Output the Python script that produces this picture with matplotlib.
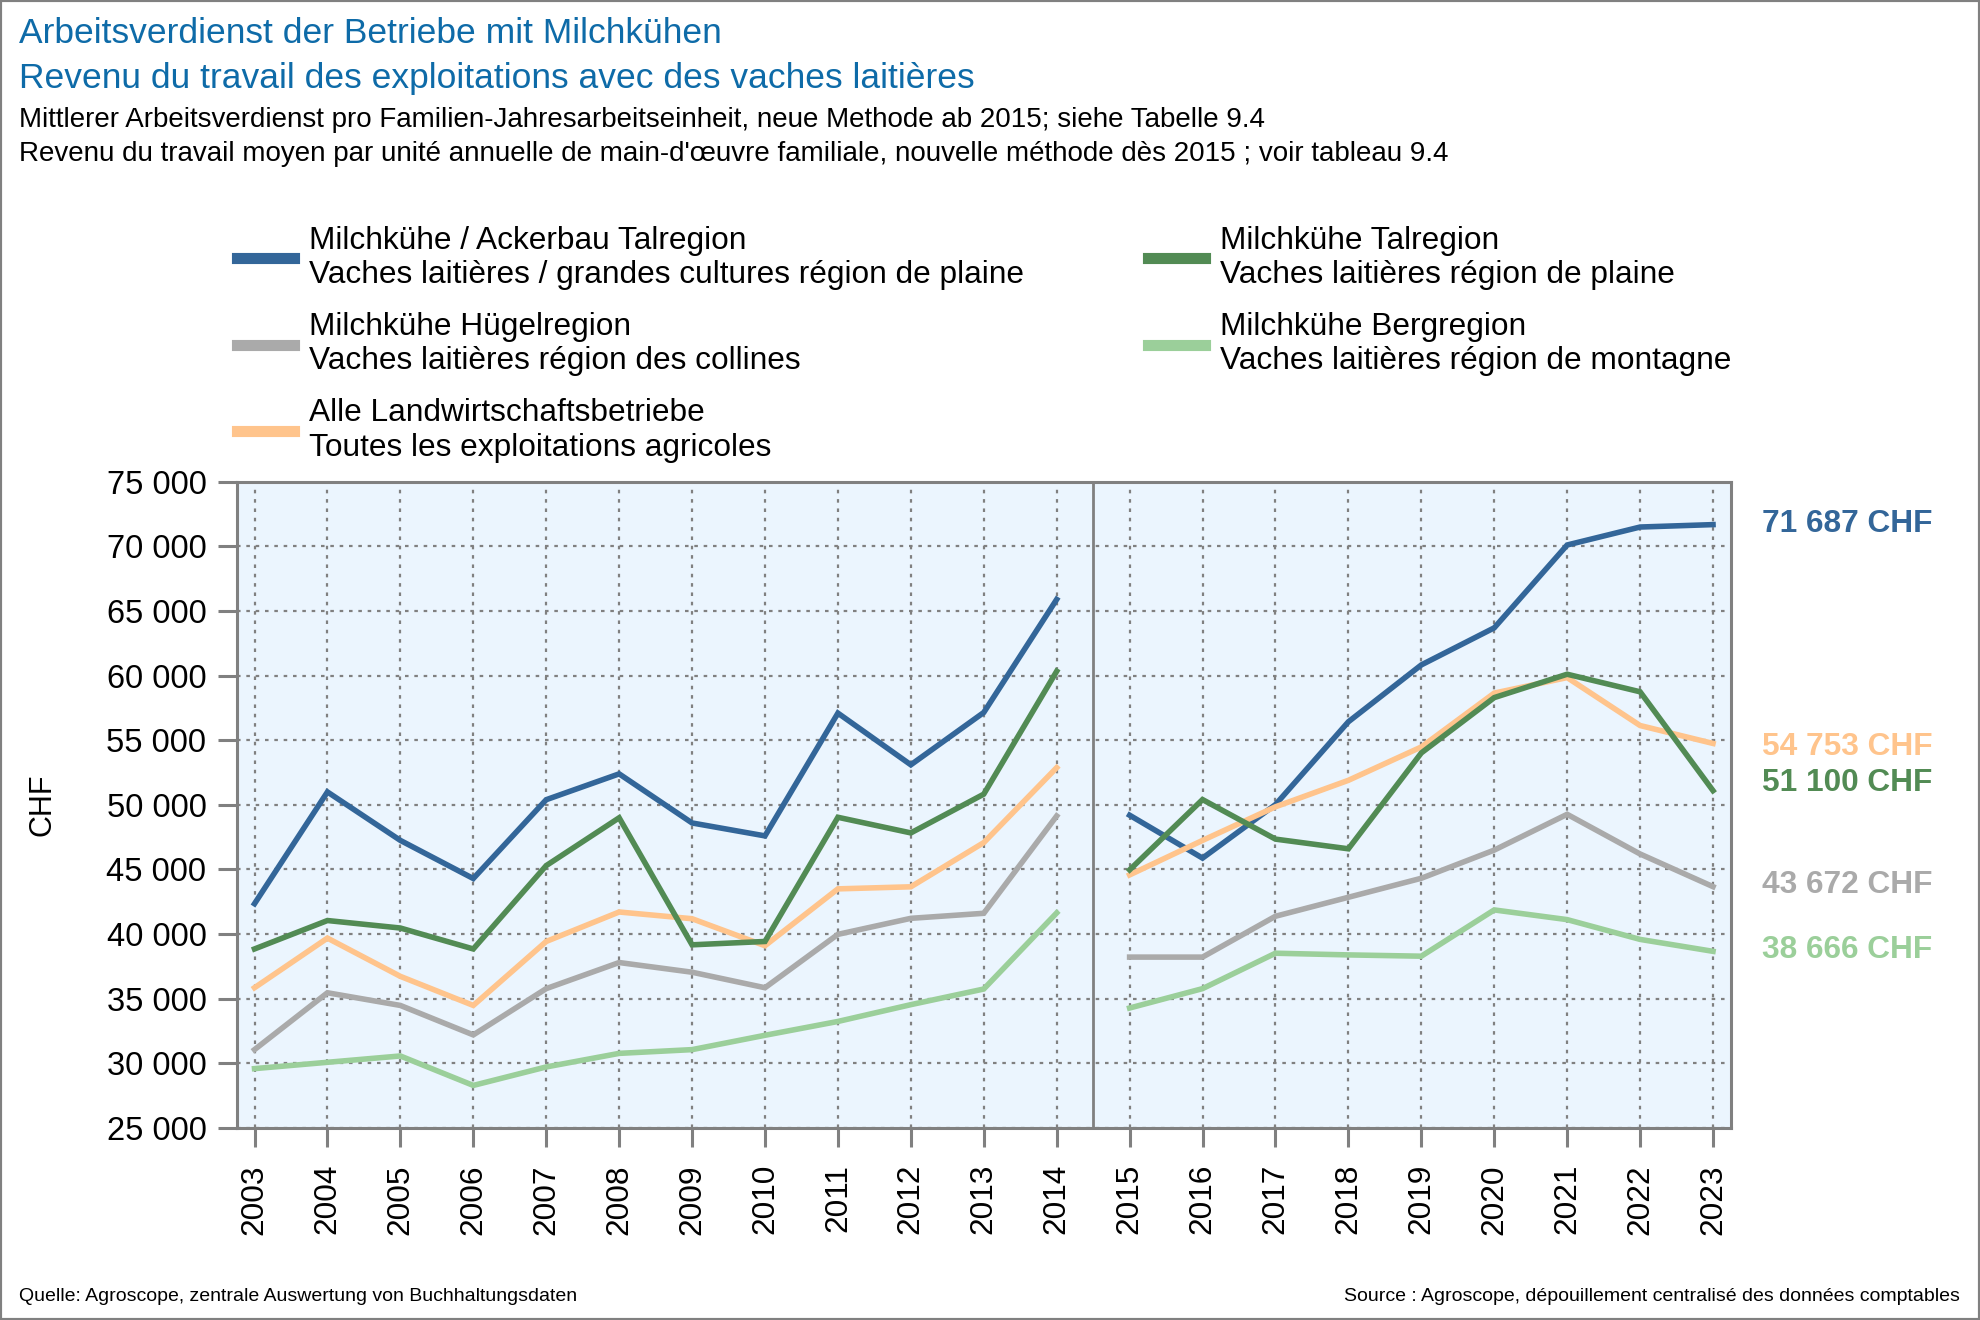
import matplotlib
matplotlib.use("Agg")
import matplotlib.pyplot as plt
from matplotlib.patches import Rectangle
from matplotlib.ticker import FuncFormatter, MultipleLocator

plt.rcParams.update({"font.family": ["Liberation Sans", "DejaVu Sans"]})

# ---- data (CHF per family annual work unit)
years_old = list(range(2003, 2015))
years_new = list(range(2015, 2024))

acker_old = [42350, 51000, 47250, 44300, 50400, 52400, 48600, 47600, 57100, 53100, 57150, 65900]
acker_new = [49200, 45880, 50020, 56430, 60830, 63700, 70110, 71500, 71687]
tal_old = [38850, 41050, 40470, 38850, 45300, 49000, 39170, 39430, 49040, 47830, 50830, 60340]
tal_new = [44970, 50410, 47350, 46600, 54020, 58300, 60110, 58750, 51100]
huegel_old = [31060, 35460, 34480, 32200, 35780, 37800, 37050, 35850, 39980, 41220, 41610, 49140]
huegel_new = [38220, 38220, 41380, 42850, 44320, 46500, 49270, 46200, 43672]
alle_old = [35850, 39690, 36730, 34480, 39430, 41710, 41190, 39100, 43500, 43660, 47080, 52880]
alle_new = [44580, 47250, 49850, 51900, 54480, 58650, 59850, 56140, 54753]
berg_old = [29590, 30080, 30570, 28290, 29720, 30770, 31060, 32170, 33240, 34540, 35750, 41640]
berg_new = [34280, 35780, 38520, 38390, 38290, 41870, 41120, 39590, 38666]

labels = [
    "Milchkühe / Ackerbau Talregion\nVaches laitières / grandes cultures région de plaine",
    "Milchkühe Hügelregion\nVaches laitières région des collines",
    "Alle Landwirtschaftsbetriebe\nToutes les exploitations agricoles",
    "Milchkühe Talregion\nVaches laitières région de plaine",
    "Milchkühe Bergregion\nVaches laitières région de montagne",
]
colors = ["#336699", "#AAAAAA", "#FFC48C", "#528B54", "#9BCF9A"]
series = [(acker_old, acker_new), (huegel_old, huegel_new), (alle_old, alle_new),
          (tal_old, tal_new), (berg_old, berg_new)]
# small vertical nudges so the end labels do not collide
nudge = [80, 120, -300, 610, 130]

GRAY = "#808080"

fig = plt.figure(figsize=(19.8, 13.2), dpi=100)
fig.patches.append(Rectangle((0, 0), 1, 1, transform=fig.transFigure, fill=False,
                             edgecolor=GRAY, linewidth=3))

fig.text(0.0096, 0.987, "Arbeitsverdienst der Betriebe mit Milchkühen", color="#0E6BA8",
         fontsize=25.5, va="top")
fig.text(0.0096, 0.953, "Revenu du travail des exploitations avec des vaches laitières",
         color="#0E6BA8", fontsize=25.5, va="top")
fig.text(0.0096, 0.919, "Mittlerer Arbeitsverdienst pro Familien-Jahresarbeitseinheit, "
         "neue Methode ab 2015; siehe Tabelle 9.4", fontsize=20, va="top")
fig.text(0.0096, 0.893, "Revenu du travail moyen par unité annuelle de main-d'œuvre familiale, "
         "nouvelle méthode dès 2015 ; voir tableau 9.4", fontsize=20, va="top")
fig.text(0.0096, 0.018, "Quelle: Agroscope, zentrale Auswertung von Buchhaltungsdaten",
         fontsize=14.0, va="center")
fig.text(0.99, 0.018, "Source : Agroscope, dépouillement centralisé des données comptables",
         fontsize=14.0, va="center", ha="right")

ax = fig.add_axes([0.1197, 0.1455, 0.7543, 0.4895])
ax.set_facecolor("#EBF5FE")
for (old, new), c, lab in zip(series, colors, labels):
    ax.plot(years_old, old, color=c, linewidth=4.0, label=lab, solid_joinstyle="miter")
    ax.plot(years_new, new, color=c, linewidth=4.0, solid_joinstyle="miter")

ax.axvline(2014.5, color=GRAY, linewidth=2)
ax.set_xlim(2002.76, 2023.24)
ax.set_ylim(25000, 75000)
ax.set_xticks(years_old + years_new)
ax.yaxis.set_major_locator(MultipleLocator(5000))
ax.yaxis.set_major_formatter(FuncFormatter(lambda v, p: f"{v:,.0f}".replace(",", " ")))
ax.tick_params(axis="x", labelrotation=90, labelsize=22.8, length=14, width=2.2, color=GRAY, pad=12)
ax.tick_params(axis="y", labelsize=23.5, length=14, width=2.2, color=GRAY, pad=8)
ax.grid(True, color=GRAY, linestyle=(0, (1.6, 2.6)), linewidth=1.6)
ax.set_axisbelow(True)
for s in ax.spines.values():
    s.set_color(GRAY)
    s.set_linewidth(2.2)
ax.set_ylabel("CHF", fontsize=22, labelpad=35)

for (old, new), c, dy in zip(series, colors, nudge):
    last = new[-1]
    ax.text(1.021, last + dy, f"{last:,.0f} CHF".replace(",", " "), color=c, fontsize=22.8,
            fontweight="bold", va="center", ha="left", transform=ax.get_yaxis_transform())

h, l = ax.get_legend_handles_labels()
fig.legend(h, l, loc="upper left", bbox_to_anchor=(0.1197, 0.829), ncol=2, frameon=False,
           fontsize=22.8, handlelength=1.8, handletextpad=0.48, columnspacing=3.9,
           labelspacing=0.68, borderpad=0, borderaxespad=0)
for line in fig.legends[0].get_lines():
    line.set_linewidth(8)

fig.savefig("out.png", dpi=100)
